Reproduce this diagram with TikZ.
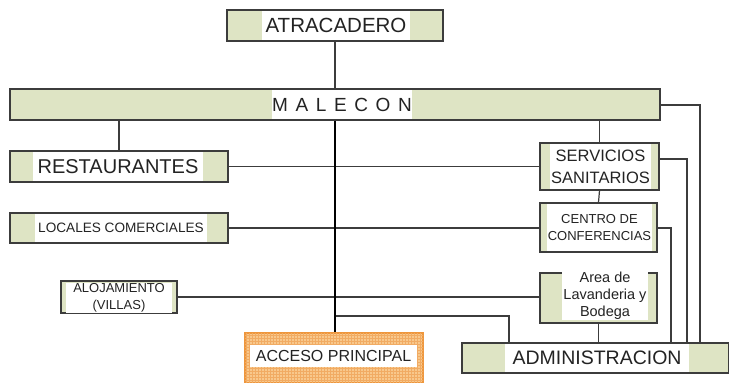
\documentclass[tikz,border=0pt]{standalone}
\usepackage{fontspec}
\setmainfont{Liberation Sans}
\usetikzlibrary{patterns}
\definecolor{grn}{RGB}{222,228,196}
\definecolor{bline}{RGB}{60,60,60}
\definecolor{txt}{RGB}{35,35,35}
\definecolor{orfill}{RGB}{248,200,140}
\definecolor{orline}{RGB}{238,150,60}
\tikzset{
  box/.style={rectangle, draw=bline, line width=1.3pt, fill=grn, inner sep=0pt},
  band/.style={rectangle, fill=white, inner sep=0pt, text=txt, align=center},
  conn/.style={draw=bline, line width=1.2pt},
  trunk/.style={draw=black, line width=2.4pt},
}
\begin{document}
\begin{tikzpicture}[x=1pt,y=-1pt]
\useasboundingbox (0,0) rectangle (729,383);
% boxes
\node[box, minimum width=216pt, minimum height=31pt] (atr) at (335,25.5) {};
\node[band, minimum width=148pt, minimum height=29pt, font=\fontsize{20.5}{22}\selectfont] at (336,25.5) {ATRACADERO};

\node[box, minimum width=650pt, minimum height=31pt] (mal) at (335,104.5) {};
\node[band, minimum width=140pt, minimum height=29pt, font=\fontsize{19}{22}\selectfont] at (342,104.5) {M\hspace{0.4em}A\hspace{0.4em}L\hspace{0.4em}E\hspace{0.4em}C\hspace{0.4em}O\hspace{0.4em}N};

\node[box, minimum width=218pt, minimum height=31pt] (res) at (119,166.5) {};
\node[band, minimum width=170pt, minimum height=29pt, font=\fontsize{20}{22}\selectfont] at (118,166.5) {RESTAURANTES};

\node[box, minimum width=119pt, minimum height=47pt] (ser) at (599.5,166.5) {};
\node[band, minimum width=101pt, minimum height=45pt, font=\fontsize{16.5}{22}\selectfont] at (600.5,166.5) {SERVICIOS\\SANITARIOS};

\node[box, minimum width=218pt, minimum height=30pt] (loc) at (119,228) {};
\node[band, minimum width=172pt, minimum height=28pt, font=\fontsize{13.6}{16}\selectfont] at (121,228) {LOCALES COMERCIALES};

\node[box, minimum width=117pt, minimum height=49pt] (cen) at (598.5,227.5) {};
\node[band, minimum width=105pt, minimum height=47pt, font=\fontsize{13}{16.5}\selectfont] at (599.5,227.5) {CENTRO DE\\CONFERENCIAS};

\node[box, minimum width=116pt, minimum height=32pt] (alo) at (119,297) {};
\node[band, minimum width=106pt, minimum height=30pt, font=\fontsize{13}{17}\selectfont] at (119,298) {ALOJAMIENTO\\(VILLAS)};

\node[box, minimum width=117pt, minimum height=50pt] (lav) at (598.5,298) {};
\node[band, minimum width=86pt, minimum height=48pt, font=\fontsize{14.5}{17}\selectfont] at (605,296) {Area de\\Lavanderia y\\Bodega};

\node[rectangle, draw=orline, line width=1.3pt, fill=orfill, postaction={pattern=grid, pattern color=orline!80}, inner sep=0pt, minimum width=178pt, minimum height=50pt] (acc) at (334,358) {};
\node[band, minimum width=167pt, minimum height=22pt, font=\fontsize{16}{18}\selectfont] at (333.5,356) {ACCESO PRINCIPAL};

\node[box, minimum width=267pt, minimum height=30pt] (adm) at (595.5,358) {};
\node[band, minimum width=184pt, minimum height=28pt, font=\fontsize{19.5}{22}\selectfont] at (597,358) {ADMINISTRACION};

% junction coordinates
\coordinate (j1) at (335,316);
\coordinate (a1) at (509,343);
\coordinate (e1) at (671,228);
\coordinate (e2) at (687,159);
\coordinate (e3) at (700,105);

% connectors
\draw[conn] (atr.south) -- (mal.north -| atr.south);
\draw[conn] (mal.south -| res.north) -- (res.north);
\draw[conn] (mal.south -| ser.north) -- (ser.north);
\draw[conn] (res.east) -- (ser.west);
\draw[conn] (loc.east) -- (loc.east -| cen.west);
\draw[conn] (alo.east) -- (alo.east -| lav.west);
\draw[conn] (ser.south) -- (cen.north);
\draw[conn] (lav.south) -- (adm.north -| lav.south);
\draw[conn] (j1) -| (a1);
\draw[conn] (cen.east |- e1) -| (e1 |- adm.north);
\draw[conn] (ser.east |- e2) -| (e2 |- adm.north);
\draw[conn] (mal.east |- e3) -| (e3 |- adm.north);
\draw[trunk] (mal.south -| atr.south) -- (acc.north -| atr.south);
\end{tikzpicture}
\end{document}
